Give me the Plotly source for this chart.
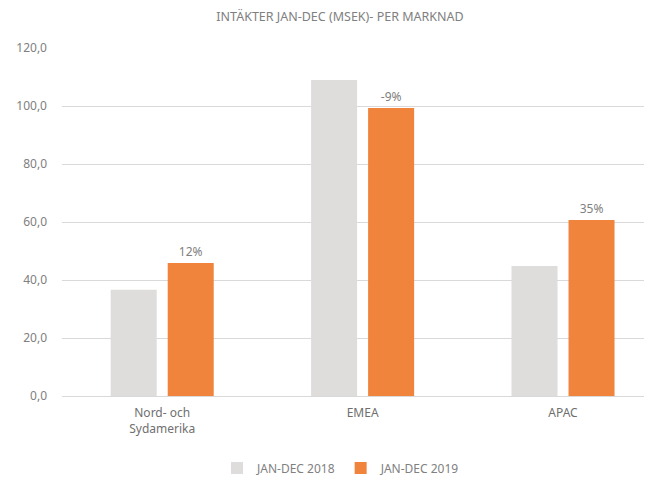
import plotly.graph_objects as go

categories = ["Nord- och<br>Sydamerika", "EMEA", "APAC"]
series_2018 = [36.6, 109.0, 44.8]
series_2019 = [45.9, 99.3, 60.7]
labels_2019 = ["12%", "-9%", "35%"]
name_2018 = "JAN-DEC 2018"
name_2019 = "JAN-DEC 2019"
title_text = "INTÄKTER JAN-DEC (MSEK)- PER MARKNAD"

FONT = "Noto Sans, Open Sans, sans-serif"
GRAY_TXT = "#808080"

W, H = 644, 473  # page adds an 8px body margin

fig = go.Figure()
fig.add_trace(go.Bar(
    x=categories, y=series_2018, name=name_2018,
    marker=dict(color="#DEDDDB", line=dict(width=0)),
))
fig.add_trace(go.Bar(
    x=categories, y=series_2019, name=name_2019,
    marker=dict(color="#F0843C", line=dict(width=0)),
    text=labels_2019, textposition="outside", cliponaxis=False,
    textfont=dict(color=GRAY_TXT, size=12, family=FONT),
))

fig.update_layout(
    width=W, height=H,
    margin=dict(l=54, r=0, t=40, b=85),
    paper_bgcolor="white", plot_bgcolor="white",
    separators=",.",
    barmode="group", bargap=0.431, bargroupgap=0.193,
    font=dict(family=FONT, color=GRAY_TXT, size=12),
    title=dict(text=title_text, x=332/W, xanchor="center", xref="container",
               y=1 - 9/H, yanchor="middle", yref="container",
               font=dict(size=12.5, color=GRAY_TXT, family=FONT)),
    showlegend=True,
    legend=dict(orientation="h", xref="container", x=333/W, xanchor="center",
                yref="container", y=1 - 460/H, yanchor="middle",
                font=dict(size=12, color=GRAY_TXT), itemwidth=30,
                traceorder="normal"),
)
fig.update_yaxes(range=[0, 120], dtick=20, tickformat=".1f",
                 gridcolor="#D9D9D9", gridwidth=1, zeroline=False,
                 showline=False, ticks="", ticklabelstandoff=14,
                 tickfont=dict(size=12, color=GRAY_TXT))
fig.update_xaxes(range=[-0.5, 2.444], showline=True, linecolor="#D9D9D9",
                 linewidth=1, ticks="", tickfont=dict(size=12, color="#6f6f6f"),
                 ticklabelstandoff=6)

fig.write_html("out.html")
